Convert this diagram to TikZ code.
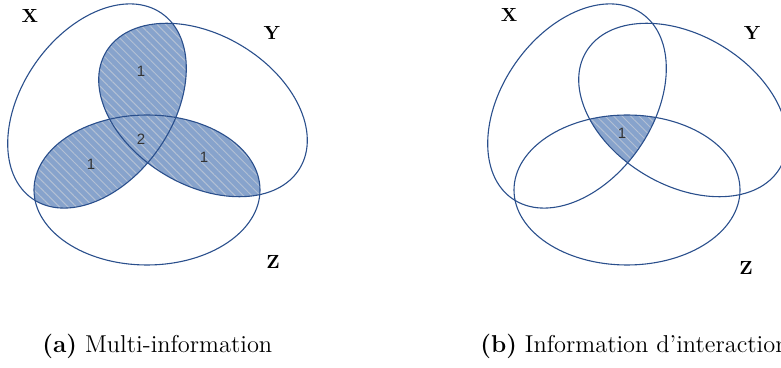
\documentclass[tikz,border=0pt]{standalone}
\usepackage{fontspec}
\usepackage{xcolor}
\usepackage{tikz}
\usetikzlibrary{patterns.meta}
\newfontfamily\numfont{Liberation Sans}
\definecolor{vnline}{HTML}{2A4F8C}
\definecolor{vnfill}{HTML}{87A3CC}
\definecolor{vnhatch}{HTML}{B3C0D4}
\newcommand{\vennX}{(97,-106) ellipse [x radius=113,y radius=75,rotate=55]}
\newcommand{\vennY}{(203,-110) ellipse [x radius=113,y radius=75,rotate=-31]}
\newcommand{\vennZ}{(147,-190) ellipse [x radius=113,y radius=75]}

\begin{document}
\begin{tikzpicture}[
  x=0.5pt,y=0.5pt,
  setline/.style={draw=vnline,line width=0.55pt},
  meet/.style={fill=vnfill,postaction={pattern={Lines[angle=-45,distance=3pt,line width=0.5pt]},pattern color=vnhatch}},
  setlbl/.style={font=\fontsize{9.5}{11}\selectfont\bfseries},
  numlbl/.style={font=\numfont\fontsize{7.5}{9}\selectfont,text=black!80},
  caption/.style={font=\fontsize{12.2}{14}\selectfont,anchor=west,inner sep=0pt}
]
\useasboundingbox (0,0) rectangle (781,-368);
\clip (0,0) rectangle (781,-368);
\begin{scope}
  \begin{scope}
    \clip \vennX;
    \fill[meet] \vennY;
    \fill[meet] \vennZ;
  \end{scope}
  \begin{scope}
    \clip \vennY;
    \fill[meet] \vennZ;
  \end{scope}
  \draw[setline] \vennX;
  \draw[setline] \vennY;
  \draw[setline] \vennZ;
  \node[setlbl] (lblXa) at (30,-16) {X};
  \node[setlbl] (lblYa) at (272,-33) {Y};
  \node[setlbl] (lblZa) at (273,-262) {Z};
  \node[numlbl] (nXY) at (141,-71) {1};
  \node[numlbl] (nXYZ) at (141,-139) {2};
  \node[numlbl] (nXZ) at (91,-164) {1};
  \node[numlbl] (nYZ) at (204,-157) {1};
\end{scope}
\begin{scope}[shift={(480,0)}]
  \begin{scope}
    \clip \vennX;
    \clip \vennY;
    \fill[meet] \vennZ;
  \end{scope}
  \draw[setline] \vennX;
  \draw[setline] \vennY;
  \draw[setline] \vennZ;
  \node[setlbl] (lblXb) at (29,-15) {X};
  \node[setlbl] (lblYb) at (272,-33) {Y};
  \node[setlbl] (lblZb) at (266,-268) {Z};
  \node[numlbl] (nAll) at (142,-133) {1};
\end{scope}
\node[caption] (capA) at (42,-346) {\textbf{(a)} Multi-information};
\node[caption] (capB) at (480,-346) {\textbf{(b)} Information d'interaction};
\end{tikzpicture}
\end{document}
